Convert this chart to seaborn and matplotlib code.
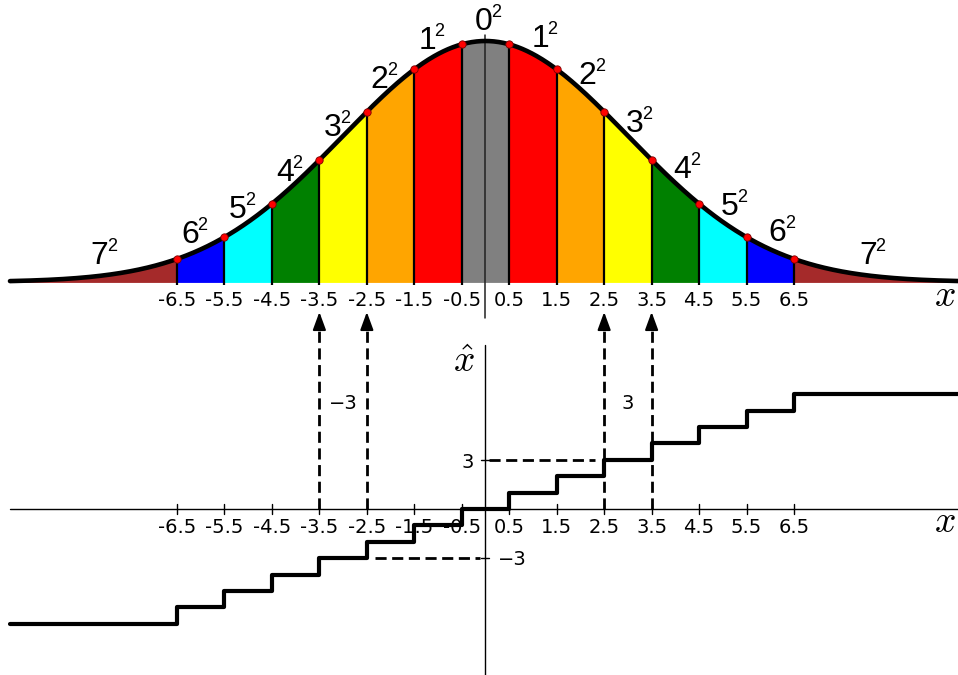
import numpy as np
import pandas as pd
import matplotlib
matplotlib.use("Agg")
import matplotlib.pyplot as plt
import seaborn as sns

# ---- data -------------------------------------------------------------
boundaries = [-6.5, -5.5, -4.5, -3.5, -2.5, -1.5, -0.5,
              0.5, 1.5, 2.5, 3.5, 4.5, 5.5, 6.5]
levels = [-7, -6, -5, -4, -3, -2, -1, 0, 1, 2, 3, 4, 5, 6, 7]
band_colors = ["gray", "red", "orange", "yellow", "green", "cyan", "blue", "brown"]
tick_labels = ["-6.5", "-5.5", "-4.5", "-3.5", "-2.5", "-1.5", "-0.5",
               "0.5", "1.5", "2.5", "3.5", "4.5", "5.5", "6.5"]
sigma = 3.0
arrow_x = [-3.5, -2.5, 2.5, 3.5]
marked_levels = [-3, 3]

# ---- layout helpers (pixel geometry of the canvas) --------------------
W, H = 958, 675
X_UNIT, X0 = 47.46, 485.5      # pixels per unit of x, pixel column of x = 0
Y_UNIT, Y0 = 16.4, 509.0       # pixels per quantizer level, pixel row of level 0


def xpx(px):
    return (px - X0) / X_UNIT


def ypx(py):
    return (Y0 - py) / Y_UNIT


sns.set_theme(style="white")
plt.rcParams["mathtext.fontset"] = "cm"
plt.rcParams["font.family"] = ["DejaVu Sans"]
plt.rcParams["text.color"] = "black"

fig = plt.figure(figsize=(W / 100, H / 100), dpi=100)
ax = fig.add_axes([0, 0, 1, 1])
ax.set_xlim(xpx(0), xpx(W))
ax.set_ylim(ypx(H), ypx(0))
ax.axis("off")

x_lo, x_hi = xpx(10), xpx(W)
TICK_FS = 14

# ---- upper panel: density split into quantization cells ----------------
base = ypx(282)
amp = 241 / Y_UNIT


def density(x):
    return base + amp * np.exp(-np.asarray(x) ** 2 / (2 * sigma ** 2))


edges = [x_lo] + boundaries + [x_hi]
for i, q in enumerate(levels):
    xs = np.linspace(edges[i], edges[i + 1], 200)
    ax.fill_between(xs, base, density(xs), color=band_colors[abs(q)],
                    lw=0.6, edgecolor=band_colors[abs(q)], zorder=1)

for b in boundaries:
    ax.plot([b, b], [base - 3 / Y_UNIT, density(b)], color="black",
            lw=1.6, zorder=2, solid_capstyle="butt")

ax.plot([0, 0], [ypx(318), ypx(35)], color="#222222", lw=1.1, zorder=2.5)

xs = np.linspace(x_lo, x_hi, 1200)
curve = pd.DataFrame({"x": xs, "y": density(xs)})
sns.lineplot(data=curve, x="x", y="y", ax=ax, color="black", lw=3.3,
             estimator=None, sort=False, zorder=3)

dots = pd.DataFrame({"x": boundaries, "y": density(boundaries)})
sns.scatterplot(data=dots, x="x", y="y", ax=ax, color="red", s=28,
                edgecolor="#7a0000", linewidth=0.6, zorder=4)

# k^2 labels above each cell
for q in range(0, 8):
    for s in ([1] if q == 0 else [-1, 1]):
        off = 0.19 if q < 7 else 1.1
        xb = s * (q + off) - 0.04 if q > 0 else -0.04
        yb = density(xb) + (23 - 11.5) / Y_UNIT
        ax.text(xb, yb, str(q), ha="center", va="baseline", fontsize=23,
                family="Liberation Sans", color="black", zorder=5)
        ax.annotate("2", xy=(xb, yb), xytext=(12.5, 13),
                    textcoords="offset pixels", ha="center", va="baseline",
                    fontsize=13, family="Liberation Sans", color="black",
                    zorder=5)

for b, lab in zip(boundaries, tick_labels):
    ax.text(b, ypx(305.5), lab, ha="center", va="baseline", fontsize=TICK_FS,
            family="DejaVu Sans", color="black")
ax.text(xpx(945), ypx(306), r"$x$", ha="center", va="baseline", fontsize=27,
        color="black")

# ---- lower panel: uniform quantizer staircase ---------------------------
ax.plot([x_lo, x_hi], [0, 0], color="black", lw=1.0, zorder=2)
ax.plot([0, 0], [ypx(H), ypx(345)], color="black", lw=1.0, zorder=2)
for b in boundaries:
    ax.plot([b, b], [-5 / Y_UNIT, 5 / Y_UNIT], color="black", lw=1.0, zorder=2)
for m in marked_levels:
    ax.plot([-4 / X_UNIT, 4 / X_UNIT], [m, m], color="black", lw=1.0, zorder=2)

for b, lab in zip(boundaries, tick_labels):
    ax.text(b, ypx(533), lab, ha="center", va="baseline", fontsize=TICK_FS,
            family="DejaVu Sans", color="black", zorder=3)
ax.text(xpx(945), ypx(532), r"$x$", ha="center", va="baseline", fontsize=27,
        color="black")
ax.text(xpx(464), ypx(372), r"$\hat{x}$", ha="center", va="baseline",
        fontsize=27, color="black")

steps = pd.DataFrame({"x": [x_lo] + boundaries + [x_hi],
                      "y": levels + [levels[-1]]})
sns.lineplot(data=steps, x="x", y="y", ax=ax, color="black", lw=3.0,
             drawstyle="steps-post", estimator=None, sort=False, zorder=4)

# guides from the level ticks to the cell edges
dash = dict(color="black", lw=2.0, ls=(0, (4, 2)), zorder=3)
ax.plot([4 / X_UNIT, 2.5 - 0.2], [3, 3], **dash)
ax.plot([-2.5 + 0.18, -5 / X_UNIT], [-3, -3], **dash)
ax.text(-12 / X_UNIT, 3 - 8 / Y_UNIT, "3", ha="right", va="baseline",
        fontsize=TICK_FS, family="DejaVu Sans", color="black")
ax.text(12 / X_UNIT, -3 - 7 / Y_UNIT, "\u22123", ha="left", va="baseline",
        fontsize=TICK_FS, family="DejaVu Sans", color="black")

# dashed arrows linking the cell edges of both panels
tip = ypx(312)
for xa in arrow_x:
    ax.plot([xa, xa], [0, ypx(322)], **dash)
    ax.annotate("", xy=(xa, tip), xytext=(xa, tip - 14 / Y_UNIT),
                arrowprops=dict(arrowstyle="-|>,head_length=0.9,head_width=0.33",
                                color="black", lw=1.5, shrinkA=0, shrinkB=0),
                zorder=5)

ax.text(-3, ypx(409), "\u22123", ha="center", va="baseline", fontsize=TICK_FS,
        family="DejaVu Sans", color="black")
ax.text(3, ypx(409), "3", ha="center", va="baseline", fontsize=TICK_FS,
        family="DejaVu Sans", color="black")

fig.savefig("out.png", dpi=100, facecolor="white")
